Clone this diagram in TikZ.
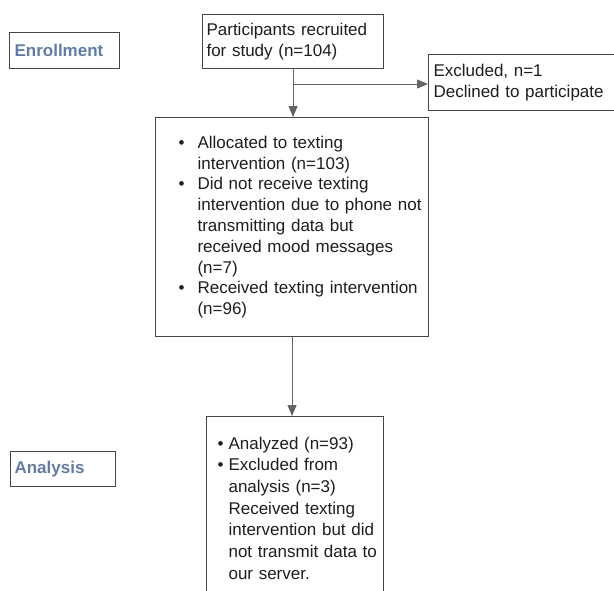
\documentclass[tikz,border=0pt]{standalone}
\usepackage{fontspec}
\setmainfont{Liberation Sans}
\usetikzlibrary{arrows.meta, positioning}

\definecolor{stagecol}{RGB}{96,125,170}
\definecolor{framecol}{RGB}{70,70,70}
\definecolor{linkcol}{RGB}{100,100,100}
\definecolor{txtcol}{RGB}{30,30,30}

% bullet lines for the two list boxes
\newcommand{\abul}{\hspace*{23pt}\makebox[19pt][l]{\textbullet}}
\newcommand{\aind}{\hspace*{42pt}}
\newcommand{\sbul}{\hspace*{11pt}\makebox[11pt][l]{\textbullet}}
\newcommand{\sind}{\hspace*{22pt}}

\begin{document}
\begin{tikzpicture}[
  x=1pt, y=-1pt,
  >={Triangle[length=11pt,width=9pt]},
  flowbox/.style={draw=framecol, line width=1.1pt, anchor=north west, align=left,
    text=txtcol, inner ysep=0pt, font=\fontsize{17}{21}\selectfont},
  stagebox/.style={flowbox, text=stagecol, font=\fontsize{17}{21}\selectfont\bfseries},
  link/.style={draw=linkcol, line width=0.9pt}
]
  \clip (0,0) rectangle (614,590);
  \fill[white] (0,0) rectangle (614,590);

  % stage labels
  \node[stagebox, inner xsep=5pt, text width=100pt, minimum height=36pt] (enrol) at (9,32) {Enrollment};
  \node[stagebox, inner xsep=4pt, text width=97pt, minimum height=35pt] (analysis) at (10,451) {Analysis};

  % flow boxes
  \node[flowbox, inner xsep=4pt, text width=173pt, minimum height=54pt] (recruit) at (202,14)
    {Participants recruited\\for study (n=104)};
  \node[flowbox, inner xsep=5pt, text width=202pt, minimum height=56pt] (excl) at (428,54)
    {Excluded, n=1\\Declined to participate};
  \node[flowbox, inner xsep=0pt, text width=273pt, minimum height=219pt,
        font=\fontsize{17}{20.8}\selectfont] (alloc) at (155,117)
    {\abul Allocated to texting\\
     \aind intervention (n=103)\\
     \abul Did not receive texting\\
     \aind intervention due to phone not\\
     \aind transmitting data but\\
     \aind received mood messages\\
     \aind (n=7)\\
     \abul Received texting intervention\\
     \aind (n=96)};
  \node[flowbox, inner xsep=0pt, text width=177pt, minimum height=183pt,
        font=\fontsize{17}{21.7}\selectfont] (anal) at (206,416)
    {\sbul Analyzed (n=93)\\
     \sbul Excluded from\\
     \sind analysis (n=3)\\
     \sind Received texting\\
     \sind intervention but did\\
     \sind not transmit data to\\
     \sind our server.};

  % connectors
  \coordinate (split) at (recruit.south |- 0,84);
  \draw[link, ->] (recruit.south) -- (recruit.south |- alloc.north);
  \draw[link, ->] (split) -- (split -| excl.west);
  \draw[link, ->] (alloc.south) -- (alloc.south |- anal.north);
\end{tikzpicture}
\end{document}
